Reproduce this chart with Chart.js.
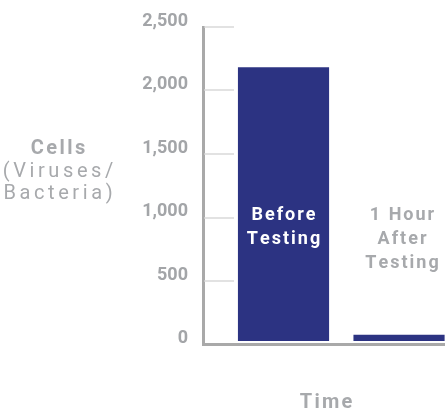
<!DOCTYPE html>
<html>
<head>
<meta charset="utf-8">
<script src="https://cdn.jsdelivr.net/npm/chart.js@4.4.1/dist/chart.umd.min.js"></script>
<style>
    html, body { margin: 0; padding: 0; background: #fff; overflow: hidden; }
    #wrap { width: 445px; height: 411px; position: relative; }
</style>
</head>
<body>
<div id="wrap"><canvas id="cellsChart"></canvas></div>
<script>
// Chart data
const categories = [['Before', 'Testing'], ['1 Hour', 'After', 'Testing']];
const cellCounts = [2180, 75];
const yTickValues = [0, 500, 1000, 1500, 2000, 2500];
const yTitleLines = ['Cells', '(Viruses/', 'Bacteria)'];
const xTitle = 'Time';

const navy = '#2c3382';
const grey = '#a7a9ac';

// draw text with extra letter spacing, centred on cx
function spacedText(ctx, text, cx, y, spacing) {
    const chars = [...text];
    const widths = chars.map(ch => ctx.measureText(ch).width);
    const total = widths.reduce((a, b) => a + b, 0) + spacing * (chars.length - 1);
    let x = cx - total / 2;
    ctx.textAlign = 'left';
    chars.forEach((ch, i) => {
        ctx.fillText(ch, x, y);
        x += widths[i] + spacing;
    });
}

const decorations = {
    id: 'decorations',
    beforeDatasetsDraw(chart) {
        // short tick lines inside the plot, to the right of the axis
        const ctx = chart.ctx;
        const area = chart.chartArea;
        const yScale = chart.scales.y;
        ctx.save();
        ctx.strokeStyle = '#e2e2e2';
        ctx.lineWidth = 2;
        yScale.ticks.forEach(t => {
            if (t.value <= 0) return;
            const y = Math.round(yScale.getPixelForValue(t.value));
            ctx.beginPath();
            ctx.moveTo(area.left + 1.5, y);
            ctx.lineTo(area.left + 31, y);
            ctx.stroke();
        });
        ctx.restore();
    },
    afterDraw(chart) {
        const ctx = chart.ctx;
        const area = chart.chartArea;
        const meta = chart.getDatasetMeta(0);
        ctx.save();
        ctx.textBaseline = 'alphabetic';

        // category labels over / inside the bars
        ctx.font = 'bold 18px Roboto';
        categories.forEach((lines, i) => {
            const bar = meta.data[i];
            lines.forEach((line, j) => {
                const y = area.top + 193 + j * 24;
                ctx.fillStyle = bar.y < y - 20 ? '#ffffff' : grey;
                spacedText(ctx, line, bar.x + (i === 0 ? 0 : 3), y, 2);
            });
        });

        // horizontal y title
        const tx = area.left - 145;
        yTitleLines.forEach((line, j) => {
            ctx.font = (j === 0 ? 'bold ' : '') + '20px Roboto';
            ctx.fillStyle = grey;
            spacedText(ctx, line, tx, area.top + 127 + j * 22.5, j === 0 ? 2.5 : 3.6);
        });

        // x title
        ctx.font = 'bold 20px Roboto';
        ctx.fillStyle = grey;
        spacedText(ctx, xTitle, (area.left + area.right) / 2 + 2, 408, 2.2);
        ctx.restore();
    }
};

const ctx = document.getElementById('cellsChart').getContext('2d');
const cellsChart = new Chart(ctx, {
    type: 'bar',
    data: {
        datasets: [{
            data: cellCounts.map((v, i) => ({ x: i + 1, y: v })),
            backgroundColor: navy,
            barThickness: 90.5,
            base: 30
        }]
    },
    options: {
        responsive: true,
        maintainAspectRatio: false,
        animation: false,
        devicePixelRatio: 1,
        layout: { padding: { top: 27, left: 0, right: 0, bottom: 0 } },
        plugins: {
            legend: { display: false },
            tooltip: { enabled: false }
        },
        scales: {
            x: {
                type: 'linear',
                offset: false,
                min: 0.303,
                max: 2.398,
                ticks: { display: false },
                grid: { display: false, offset: false },
                border: { color: '#a9a9a9', width: 3 },
                afterFit: scale => { scale.height = 66.5; }
            },
            y: {
                min: 0,
                max: 2500,
                afterBuildTicks: scale => {
                    scale.ticks = yTickValues.map(v => ({ value: v }));
                },
                ticks: {
                    color: '#a3a5a8',
                    font: { family: 'Roboto', weight: 'bold', size: 18 },
                    padding: 7,
                    labelOffset: -6,
                    callback: v => v.toLocaleString('en-US')
                },
                grid: { display: false },
                border: { color: '#a9a9a9', width: 3 },
                afterFit: scale => { scale.width = 203; }
            }
        }
    },
    plugins: [decorations]
});
</script>
</body>
</html>
